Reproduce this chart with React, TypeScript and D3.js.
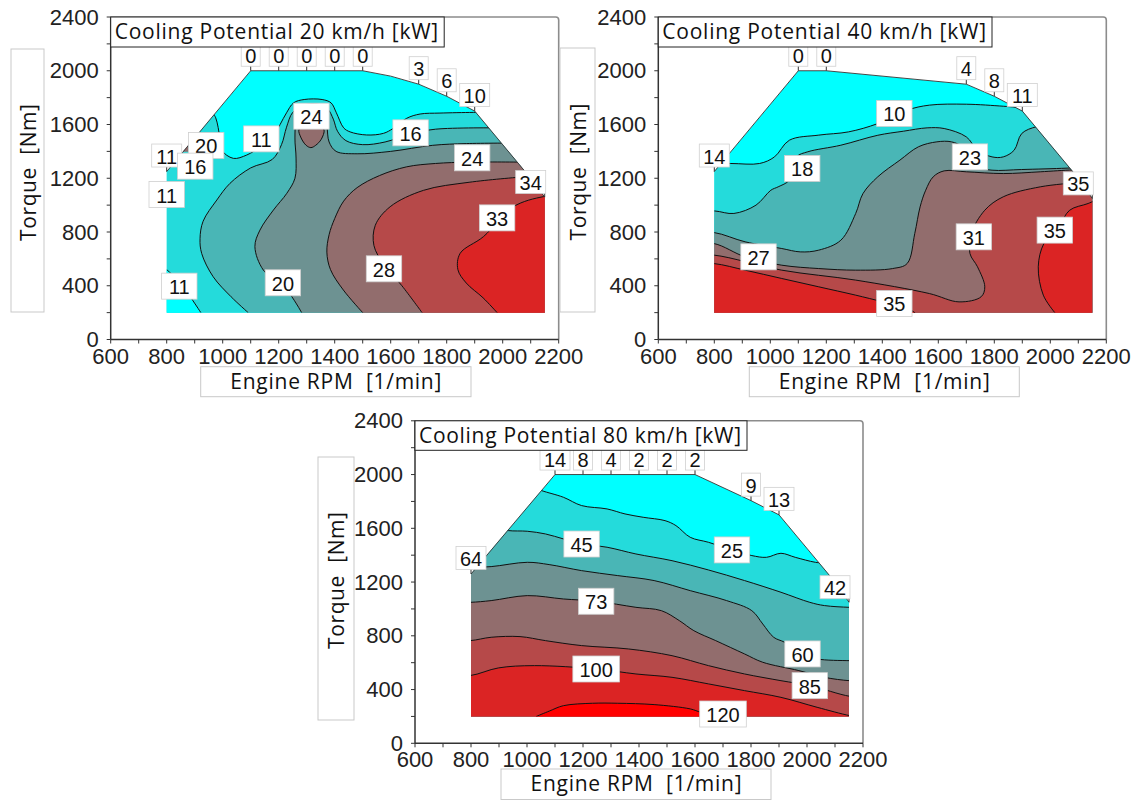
import React from 'react';
import * as d3 from 'd3';

type Pt = [number, number];
type Lab = [string, number, number];

// ---------- shared axes ----------
const RPM_DOMAIN: Pt = [600, 2200];
const TORQUE_DOMAIN: Pt = [0, 2400];
const Y_TICKS = [0, 400, 800, 1200, 1600, 2000, 2400];
const X_TICKS = [600, 800, 1000, 1200, 1400, 1600, 1800, 2000, 2200];

// ---------- 20 km/h ----------
const envelope20: Pt[] = [[800, 200], [800, 1250], [1100, 2000], [1500, 2000], [1600, 1960], [1700, 1900], [1800, 1810], [1900, 1700], [2100, 1200], [2150, 1060], [2150, 200]];
const iso20_11: Pt[] = [[960, 1700], [975, 1650], [990, 1500], [996, 1410], [1038, 1348], [1086, 1373], [1140, 1440], [1181, 1509], [1205, 1600], [1228, 1687], [1253, 1761], [1291, 1786], [1355, 1786], [1387, 1761], [1406, 1687], [1432, 1575], [1455, 1545], [1514, 1522], [1574, 1534], [1609, 1571], [1657, 1646], [1705, 1678], [1776, 1685], [1895, 1690], [1950, 1690]];
const corner20_11: Pt[] = [[800, 520], [840, 440], [880, 330], [922, 200]];
const iso20_16: Pt[] = [[1091, 200], [1030, 318], [966, 467], [925, 640], [919, 750], [930, 880], [979, 1038], [1026, 1162], [1100, 1277], [1177, 1340], [1210, 1450], [1228, 1580], [1250, 1690], [1290, 1745], [1340, 1752], [1375, 1715], [1395, 1640], [1410, 1550], [1440, 1480], [1500, 1450], [1580, 1470], [1671, 1530], [1760, 1565], [1990, 1575]];
const iso20_20: Pt[] = [[1282, 200], [1229, 368], [1145, 517], [1115, 691], [1133, 814], [1181, 963], [1229, 1088], [1258, 1200], [1262, 1350], [1258, 1500], [1265, 1640], [1295, 1705], [1335, 1710], [1362, 1675], [1372, 1590], [1380, 1470], [1405, 1400], [1480, 1382], [1600, 1400], [1750, 1445], [1870, 1458], [2050, 1462]];
const island20_24: Pt[] = [[1272, 1560], [1285, 1585], [1315, 1592], [1348, 1585], [1362, 1560], [1352, 1490], [1332, 1445], [1315, 1428], [1298, 1445], [1280, 1500]];
const iso20_24: Pt[] = [[1500, 200], [1431, 368], [1385, 520], [1372, 650], [1380, 780], [1400, 900], [1432, 1030], [1480, 1130], [1560, 1220], [1657, 1285], [1760, 1310], [1880, 1320], [2070, 1320]];
const iso20_28: Pt[] = [[1712, 200], [1640, 400], [1575, 560], [1540, 700], [1545, 850], [1598, 988], [1717, 1110], [1880, 1170], [2086, 1212], [2115, 1215]];
const iso20_33: Pt[] = [[1980, 200], [1930, 310], [1870, 420], [1840, 520], [1848, 641], [1931, 765], [2038, 988], [2145, 1063], [2200, 1070]];
const speck20_24: Pt[] = [[857, 1398], [877, 1398], [877, 1447]];
const labels20: Lab[] = [['11', 1138, 1493], ['24', 1317, 1662], ['16', 1671, 1538], ['24', 1891, 1352], ['33', 1980, 905], ['28', 1576, 526], ['20', 1215, 422], ['11', 845, 397], ['11', 800, 1079], ['20', 941, 1444], ['16', 902, 1290]];
const fullLoad20: Lab[] = [['0', 1100, 2000], ['0', 1200, 2000], ['0', 1300, 2000], ['0', 1400, 2000], ['0', 1500, 2000], ['3', 1700, 1900], ['6', 1800, 1810], ['10', 1900, 1700], ['34', 2150, 1060], ['11', 800, 1250]];

// ---------- 40 km/h ----------
const envelope40: Pt[] = [[800, 200], [800, 1250], [1100, 2000], [1200, 2000], [1700, 1900], [1800, 1810], [1900, 1700], [2100, 1200], [2150, 1050], [2150, 200]];
const iso40_10: Pt[] = [[700, 1310], [857, 1310], [962, 1310], [1015, 1359], [1068, 1483], [1173, 1521], [1279, 1545], [1384, 1607], [1489, 1707], [1568, 1744], [1700, 1751], [1832, 1736], [1900, 1725]];
const iso40_18: Pt[] = [[700, 957], [800, 957], [870, 938], [949, 1000], [1002, 1111], [1028, 1136], [1068, 1186], [1094, 1359], [1134, 1397], [1252, 1446], [1384, 1520], [1475, 1550], [1560, 1575], [1621, 1570], [1700, 1508], [1740, 1409], [1792, 1359], [1832, 1359], [1871, 1409], [1898, 1533], [1950, 1583], [1990, 1590]];
const iso40_23: Pt[] = [[700, 796], [799, 796], [910, 727], [1041, 677], [1107, 652], [1173, 665], [1252, 739], [1305, 938], [1331, 1086], [1384, 1211], [1463, 1335], [1529, 1434], [1595, 1471], [1647, 1471], [1687, 1434], [1713, 1359], [1740, 1285], [1792, 1260], [1898, 1265], [2056, 1275], [2100, 1280]];
const iso40_27: Pt[] = [[700, 714], [799, 714], [910, 615], [1041, 553], [1173, 528], [1305, 516], [1437, 528], [1489, 566], [1516, 789], [1535, 987], [1555, 1111], [1582, 1211], [1621, 1255], [1700, 1248], [1832, 1235], [1964, 1248], [2080, 1262], [2120, 1262]];
const iso40_31: Pt[] = [[700, 628], [799, 628], [1041, 516], [1305, 442], [1568, 342], [1674, 280], [1753, 318], [1766, 392], [1740, 541], [1713, 640], [1718, 789], [1766, 962], [1832, 1062], [1964, 1136], [2108, 1170], [2130, 1175]];
const iso40_35a: Pt[] = [[700, 565], [799, 565], [910, 516], [1041, 454], [1173, 392], [1305, 330], [1397, 283], [1450, 255], [1516, 200], [1530, 150]];
const iso40_35b: Pt[] = [[2016, 200], [1975, 330], [1957, 541], [1977, 714], [2030, 838], [2069, 962], [2135, 1012], [2170, 1045]];
const labels40: Lab[] = [['10', 1443, 1682], ['18', 1114, 1273], ['23', 1713, 1359], ['27', 958, 615], ['31', 1727, 764], ['35', 2016, 814], ['35', 1443, 268]];
const fullLoad40: Lab[] = [['0', 1100, 2000], ['0', 1200, 2000], ['4', 1700, 1900], ['8', 1800, 1810], ['11', 1900, 1700], ['35', 2150, 1050], ['14', 800, 1250]];

// ---------- 80 km/h ----------
const envelope80: Pt[] = [[800, 200], [800, 1260], [1100, 2000], [1600, 2000], [1800, 1806], [1900, 1700], [2100, 1200], [2150, 1050], [2150, 200]];
const iso80_25: Pt[] = [[1030, 1900], [1053, 1880], [1130, 1831], [1195, 1769], [1286, 1744], [1350, 1707], [1415, 1682], [1493, 1657], [1532, 1620], [1583, 1533], [1648, 1496], [1732, 1439], [1803, 1397], [1855, 1384], [1907, 1414], [1958, 1384], [2030, 1347], [2070, 1340]];
const iso80_45: Pt[] = [[900, 1600], [934, 1583], [1001, 1578], [1066, 1558], [1130, 1521], [1195, 1483], [1286, 1459], [1389, 1409], [1518, 1359], [1648, 1290], [1777, 1211], [1907, 1124], [2010, 1049], [2062, 1025], [2152, 1012], [2200, 1012]];
const iso80_60: Pt[] = [[700, 1310], [797, 1310], [872, 1315], [1001, 1347], [1079, 1330], [1195, 1285], [1324, 1248], [1454, 1211], [1583, 1136], [1713, 1062], [1803, 987], [1842, 888], [1881, 789], [1920, 752], [1984, 665], [2036, 628], [2152, 615], [2200, 615]];
const iso80_73: Pt[] = [[700, 1049], [797, 1049], [872, 1062], [1001, 1099], [1130, 1074], [1247, 1057], [1389, 1012], [1480, 987], [1544, 913], [1596, 838], [1674, 764], [1777, 665], [1842, 603], [1971, 541], [2062, 491], [2152, 466], [2200, 466]];
const iso80_85: Pt[] = [[700, 764], [797, 764], [872, 789], [975, 794], [1066, 764], [1195, 727], [1363, 702], [1518, 652], [1648, 578], [1777, 516], [1907, 466], [2010, 429], [2152, 350], [2200, 345]];
const iso80_100: Pt[] = [[700, 504], [797, 504], [898, 561], [1027, 578], [1247, 553], [1389, 516], [1518, 491], [1648, 442], [1777, 392], [1907, 342], [2036, 268], [2152, 206], [2200, 190]];
const iso80_120: Pt[] = [[1033, 200], [1080, 240], [1130, 280], [1234, 298], [1324, 298], [1454, 288], [1583, 256], [1622, 231], [1700, 212], [1740, 150]];
const labels80: Lab[] = [['25', 1732, 1439], ['45', 1195, 1483], ['60', 1984, 665], ['73', 1247, 1057], ['85', 2010, 429], ['100', 1247, 553], ['120', 1700, 218]];
const fullLoad80: Lab[] = [['14', 1100, 2000], ['8', 1200, 2000], ['4', 1300, 2000], ['2', 1400, 2000], ['2', 1500, 2000], ['2', 1600, 2000], ['9', 1800, 1806], ['13', 1900, 1700], ['42', 2150, 1050], ['64', 800, 1260]];

// ---------- layout ----------
const PLOT_W = 448;
const PLOT_H = 322.5;
const FONT_NUM = '"Liberation Sans", Arial, sans-serif';
const FONT_TXT = '"Open Sans", "Noto Sans", sans-serif';
const bandColor = (k: number) => d3.interpolateRgb('#00ffff', '#ff0000')(k / 7);

type Patch = { level: number; pts: Pt[]; closed?: boolean };
type PanelCfg = {
  id: string;
  title: string;
  left: number;
  bottom: number;
  titleBox: [number, number, number, number];
  yBox: [number, number, number, number];
  xBox: [number, number, number, number];
  envelope: Pt[];
  patches: Patch[];
  loose?: Patch[];
  labels: Lab[];
  fullLoad: Lab[];
};

const panels: PanelCfg[] = [
  {
    id: 'p20', title: 'Cooling Potential 20 km/h [kW]', left: 110.7, bottom: 339.5,
    titleBox: [110.7, 17, 333.5, 30], yBox: [11, 49, 33, 263], xBox: [200.7, 366.7, 270.3, 30],
    envelope: envelope20,
    patches: [
      { level: 1, pts: iso20_11 }, { level: 0, pts: corner20_11 }, { level: 2, pts: iso20_16 },
      { level: 3, pts: iso20_20 }, { level: 4, pts: island20_24, closed: true }, { level: 4, pts: iso20_24 },
      { level: 5, pts: iso20_28 }, { level: 6, pts: iso20_33 },
    ],
    loose: [{ level: 4, pts: speck20_24, closed: true }],
    labels: labels20, fullLoad: fullLoad20,
  },
  {
    id: 'p40', title: 'Cooling Potential 40 km/h [kW]', left: 658.3, bottom: 339.5,
    titleBox: [658.3, 17, 333.7, 30], yBox: [560, 48, 35, 264], xBox: [749.3, 366.7, 270, 30],
    envelope: envelope40,
    patches: [
      { level: 1, pts: iso40_10 }, { level: 2, pts: iso40_18 }, { level: 3, pts: iso40_23 },
      { level: 4, pts: iso40_27 }, { level: 5, pts: iso40_31 }, { level: 6, pts: iso40_35a }, { level: 6, pts: iso40_35b },
    ],
    labels: labels40, fullLoad: fullLoad40,
  },
  {
    id: 'p80', title: 'Cooling Potential 80 km/h [kW]', left: 415, bottom: 743.3,
    titleBox: [415, 420.8, 332, 29.5], yBox: [318, 457, 36, 263], xBox: [501, 769, 270, 30.5],
    envelope: envelope80,
    patches: [
      { level: 1, pts: iso80_25 }, { level: 2, pts: iso80_45 }, { level: 3, pts: iso80_60 },
      { level: 4, pts: iso80_73 }, { level: 5, pts: iso80_85 }, { level: 6, pts: iso80_100 }, { level: 7, pts: iso80_120 },
    ],
    labels: labels80, fullLoad: fullLoad80,
  },
];

// Where an open iso-line leaves the operating map, and its clockwise position on an outer frame.
const OUT_CORNERS: Pt[] = [[0, 3000], [3000, 3000], [3000, -500], [0, -500]];
function exitOf(p: Pt): [Pt, number] {
  const [px, py] = p;
  if (py <= 200) return [[px, -500], 2 + (3000 - px) / 3000];
  if (px <= 800) return [[0, py], 3 + (py + 500) / 3500];
  if (px >= 2150) return [[3000, py], 1 + (3000 - py) / 3500];
  return [[px, 3000], px / 3000];
}
// Closing route that keeps the region on the right-hand side of the line.
function closingRoute(pts: Pt[]): Pt[] {
  const [qs, ss] = exitOf(pts[0]);
  const [qe, se] = exitOf(pts[pts.length - 1]);
  let target = ss;
  if (target <= se) target += 4;
  const out: Pt[] = [qe];
  for (let k = Math.floor(se) + 1; k < target; k++) out.push(OUT_CORNERS[k % 4]);
  out.push(qs);
  return out;
}

function Panel({ cfg }: { cfg: PanelCfg }) {
  const x = d3.scaleLinear().domain(RPM_DOMAIN).range([cfg.left, cfg.left + PLOT_W]);
  const y = d3.scaleLinear().domain(TORQUE_DOMAIN).range([cfg.bottom, cfg.bottom - PLOT_H]);
  const smooth = d3.line<Pt>().x(d => x(d[0])).y(d => y(d[1])).curve(d3.curveCatmullRom.alpha(0.5));
  const smoothClosed = d3.line<Pt>().x(d => x(d[0])).y(d => y(d[1])).curve(d3.curveCatmullRomClosed.alpha(0.5));
  const straight = d3.line<Pt>().x(d => x(d[0])).y(d => y(d[1]));
  const envPath = straight(cfg.envelope) + 'Z';
  const upperEdge = straight(cfg.envelope.slice(1, cfg.envelope.length - 1)) || '';

  const fillPath = (p: Patch) => {
    if (p.closed) return smoothClosed(p.pts) || '';
    const route = closingRoute(p.pts).map(q => `L${x(q[0])},${y(q[1])}`).join('');
    return (smooth(p.pts) || '') + route + 'Z';
  };
  const strokePath = (p: Patch) => (p.closed ? smoothClosed(p.pts) : smooth(p.pts)) || '';

  const yMinor = d3.range(0, 2401, 200);
  const xMinor = d3.range(600, 2201, 100);
  const [tx, ty, tw, th] = cfg.titleBox;
  const [yx, yy, yw, yh] = cfg.yBox;
  const [xx, xy, xw, xh] = cfg.xBox;
  const top = cfg.bottom - PLOT_H;
  const right = cfg.left + PLOT_W;

  return (
    <g>
      <defs>
        <clipPath id={`clip-${cfg.id}`}>
          <path d={envPath} />
        </clipPath>
      </defs>

      {/* axis title boxes */}
      <rect x={yx} y={yy} width={yw} height={yh} fill="#fff" stroke="#c9c9c9" strokeWidth={1} />
      <text
        transform={`translate(${yx + yw / 2},${yy + yh / 2 - 8}) rotate(-90)`}
        textAnchor="middle" dominantBaseline="central"
        fontFamily={FONT_TXT} fontSize={21} fill="#111" textLength={137} style={{ whiteSpace: 'pre' }}
      >{'Torque  [Nm]'}</text>
      <rect x={xx} y={xy} width={xw} height={xh} fill="#fff" stroke="#c9c9c9" strokeWidth={1} />
      <text
        x={xx + xw / 2} y={xy + 22} textAnchor="middle"
        fontFamily={FONT_TXT} fontSize={21} fill="#111" textLength={211} style={{ whiteSpace: 'pre' }}
      >{'Engine RPM  [1/min]'}</text>

      {/* frame */}
      <path d={`M${cfg.left},${top}H${right - 3}Q${right},${top} ${right},${top + 3}V${cfg.bottom}`} fill="none" stroke="#8c8c8c" strokeWidth={1.6} />

      {/* filled bands */}
      <g clipPath={`url(#clip-${cfg.id})`}>
        <path d={envPath} fill={bandColor(0)} />
        {cfg.patches.map((p, i) => (
          <path key={`f${i}`} d={fillPath(p)} fill={bandColor(p.level)} />
        ))}
        {cfg.patches.map((p, i) => (
          <path key={`s${i}`} d={strokePath(p)} fill="none" stroke="#111" strokeWidth={1} />
        ))}
      </g>
      {(cfg.loose || []).map((p, i) => (
        <path key={`l${i}`} d={straight(p.pts) + 'Z'} fill={bandColor(p.level)} />
      ))}
      <path d={upperEdge} fill="none" stroke="#333" strokeWidth={0.9} />

      {/* axes */}
      <line x1={cfg.left} x2={cfg.left} y1={top} y2={cfg.bottom} stroke="#333" strokeWidth={1.5} />
      <line x1={cfg.left} x2={right} y1={cfg.bottom} y2={cfg.bottom} stroke="#333" strokeWidth={1.5} />
      {yMinor.map(v => (
        <line key={`yt${v}`} x1={cfg.left - 4} x2={cfg.left} y1={y(v)} y2={y(v)} stroke="#333" strokeWidth={1} />
      ))}
      {xMinor.map(v => (
        <line key={`xt${v}`} x1={x(v)} x2={x(v)} y1={cfg.bottom} y2={cfg.bottom + 4} stroke="#333" strokeWidth={1} />
      ))}
      {Y_TICKS.map(v => (
        <text key={`yl${v}`} x={cfg.left - 12} y={y(v)} textAnchor="end" dominantBaseline="central"
          fontFamily={FONT_NUM} fontSize={22} fill="#222">{v}</text>
      ))}
      {X_TICKS.map(v => (
        <text key={`xl${v}`} x={x(v)} y={cfg.bottom + 24} textAnchor="middle"
          fontFamily={FONT_NUM} fontSize={22} fill="#222">{v}</text>
      ))}

      {/* full-load point values */}
      {cfg.fullLoad.map(([t, r, m], i) => {
        const px = x(r);
        const py = y(m);
        const corner = r >= 2150;
        const cx = px + (corner ? -14 : 0);
        const cy = py + (corner ? -15 : -16);
        const w = t.length * 11 + 8;
        return (
          <g key={`fl${i}`}>
            <line x1={px} x2={px} y1={py} y2={py - 7} stroke="#333" strokeWidth={1} />
            <rect x={cx - w / 2} y={cy - 11.5} width={w} height={23} fill="#fff" stroke="#d0d0d0" strokeWidth={0.8} />
            <text x={cx} y={cy + 1} textAnchor="middle" dominantBaseline="central"
              fontFamily={FONT_NUM} fontSize={20} fill="#111">{t}</text>
          </g>
        );
      })}

      {/* iso-line values */}
      {cfg.labels.map(([t, r, m], i) => {
        const cx = x(r);
        const cy = y(m);
        const w = t.length * 11.2 + 13;
        return (
          <g key={`lb${i}`}>
            <rect x={cx - w / 2} y={cy - 13} width={w} height={26} fill="#fff" stroke="#cfcfcf" strokeWidth={0.8} />
            <text x={cx} y={cy + 1} textAnchor="middle" dominantBaseline="central"
              fontFamily={FONT_NUM} fontSize={20} fill="#111">{t}</text>
          </g>
        );
      })}

      {/* title */}
      <rect x={tx} y={ty} width={tw} height={th} fill="#fff" stroke="#222" strokeWidth={1} />
      <text x={tx + 4} y={ty + 22} fontFamily={FONT_TXT} fontSize={21} fill="#111" textLength={tw - 10}>{cfg.title}</text>
    </g>
  );
}

export default function App() {
  return (
    <svg
      width={1139} height={800} viewBox="0 0 1139 800"
      style={{ position: 'absolute', left: 0, top: 0, background: '#fff' }}
    >
      <rect width={1139} height={800} fill="#fff" />
      {panels.map(p => (
        <Panel key={p.id} cfg={p} />
      ))}
    </svg>
  );
}
